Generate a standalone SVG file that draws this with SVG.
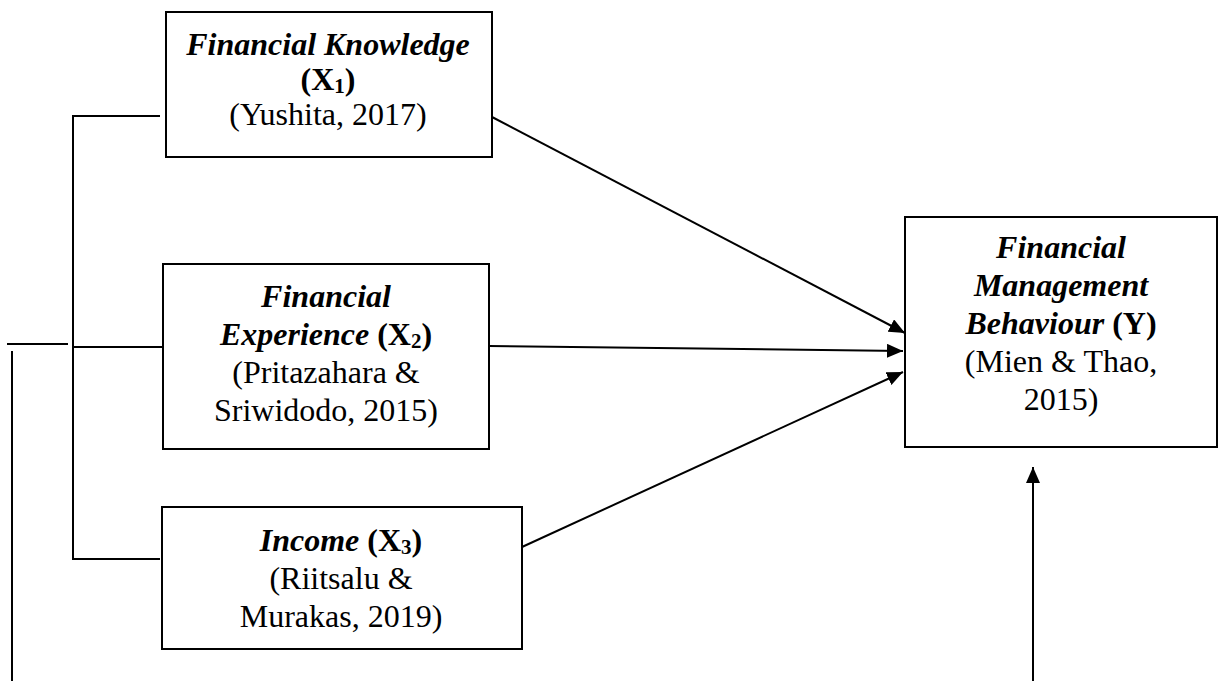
<svg xmlns="http://www.w3.org/2000/svg" width="1223" height="681" viewBox="0 0 1223 681">
<style>
.box{fill:#fff;stroke:#000;stroke-width:2}
.ln{fill:none;stroke:#000;stroke-width:2}
text{font-family:"Liberation Serif","Times New Roman",serif;font-size:32px;fill:#000;text-anchor:middle}
.bi{font-weight:bold;font-style:italic}
.b{font-weight:bold}
.sub{font-size:21px}
</style>
<defs>
<marker id="ah" markerUnits="userSpaceOnUse" markerWidth="17" markerHeight="14" refX="16" refY="7" orient="auto">
<path d="M0,0 L16,7 L0,14 z" fill="#000"/>
</marker>
</defs>
<g id="connectors">
<path class="ln" d="M160,116 H73 V559 H160"/>
<path class="ln" d="M73,347 H163"/>
<path class="ln" d="M7,344 H68"/>
<path class="ln" d="M12,351 V681"/>
<line class="ln" x1="492" y1="117" x2="905" y2="333" marker-end="url(#ah)"/>
<line class="ln" x1="489" y1="346" x2="903" y2="351" marker-end="url(#ah)"/>
<line class="ln" x1="522" y1="547" x2="903" y2="372" marker-end="url(#ah)"/>
<line class="ln" x1="1033" y1="681" x2="1033" y2="467" marker-end="url(#ah)"/>
</g>
<g id="x1">
<rect class="box" x="166" y="12" width="326" height="145"/>
<text x="328" y="55" class="bi">Financial Knowledge</text>
<text x="328" y="90" class="b">(X<tspan class="sub" dy="3">1</tspan><tspan dy="-3">)</tspan></text>
<text x="328" y="125">(Yushita, 2017)</text>
</g>
<g id="x2">
<rect class="box" x="163" y="264" width="326" height="185"/>
<text x="326" y="307" class="bi">Financial</text>
<text x="326" y="345"><tspan class="bi">Experience</tspan> <tspan class="b">(X<tspan class="sub" dy="3">2</tspan><tspan dy="-3">)</tspan></tspan></text>
<text x="326" y="383">(Pritazahara &amp;</text>
<text x="326" y="421">Sriwidodo, 2015)</text>
</g>
<g id="x3">
<rect class="box" x="162" y="507" width="360" height="142"/>
<text x="341" y="551"><tspan class="bi">Income</tspan> <tspan class="b">(X<tspan class="sub" dy="3">3</tspan><tspan dy="-3">)</tspan></tspan></text>
<text x="341" y="589">(Riitsalu &amp;</text>
<text x="341" y="627">Murakas, 2019)</text>
</g>
<g id="y">
<rect class="box" x="905" y="217" width="312" height="230"/>
<text x="1061" y="258" class="bi">Financial</text>
<text x="1061" y="296" class="bi">Management</text>
<text x="1061" y="334"><tspan class="bi">Behaviour</tspan> <tspan class="b">(Y)</tspan></text>
<text x="1061" y="372">(Mien &amp; Thao,</text>
<text x="1061" y="410">2015)</text>
</g>
</svg>
